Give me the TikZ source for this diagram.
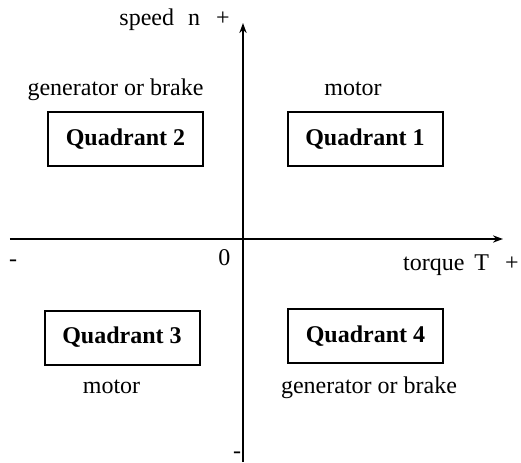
\documentclass[tikz,border=0pt]{standalone}
\usepackage{fontspec}
\setmainfont{Liberation Serif}
\usetikzlibrary{arrows.meta}

\begin{document}
\begin{tikzpicture}[
        x=0.5pt, y=-0.5pt,
        quad/.style={
            draw,
            line width=1pt,
            minimum width=77.5pt,
            minimum height=27pt,
            inner sep=0pt,
            font=\fontsize{12}{14}\selectfont\bfseries
          },
        lbl/.style={
            inner sep=0pt,
            anchor=base,
            font=\fontsize{12}{14}\selectfont
          },
        axis/.style={-{Stealth[length=5pt,width=3.6pt]}, line width=1pt}
      ]
      \useasboundingbox (0,0) rectangle (521,462);

      \coordinate (t_left) at (10,239);
      \coordinate (t_right) at (503,239);
      \coordinate (n_bottom) at (243,462);
      \coordinate (n_top) at (243,23);

      \draw[axis] (t_left) -- (t_right);
      \draw[axis] (n_bottom) -- (n_top);

      \node[quad] (quad1) at (365,139) {Quadrant 1};
      \node[quad] (quad2) at (125.5,139) {Quadrant 2};
      \node[quad] (quad3) at (122,337.5) {Quadrant 3};
      \node[quad] (quad4) at (365.5,336) {Quadrant 4};

      \node[lbl] (motor1) at (353,95) {motor};
      \node[lbl] (brake2) at (115.5,95) {generator or brake};
      \node[lbl] (motor3) at (111.5,393) {motor};
      \node[lbl] (brake4) at (369,393) {generator or brake};

      \node[lbl, anchor=base east] (speed_lbl) at (230,25) {speed\hspace{7pt}n\hspace{8pt}+};
      \node[lbl, anchor=base east] (torque_lbl) at (519,270) {torque\hspace{5pt}T\hspace{8pt}+};
      \node[lbl] (zero) at (224.5,265) {0};
      \node[lbl] (t_minus) at (13,266) {-};
      \node[lbl] (n_minus) at (237,458) {-};
    \end{tikzpicture}
\end{document}
